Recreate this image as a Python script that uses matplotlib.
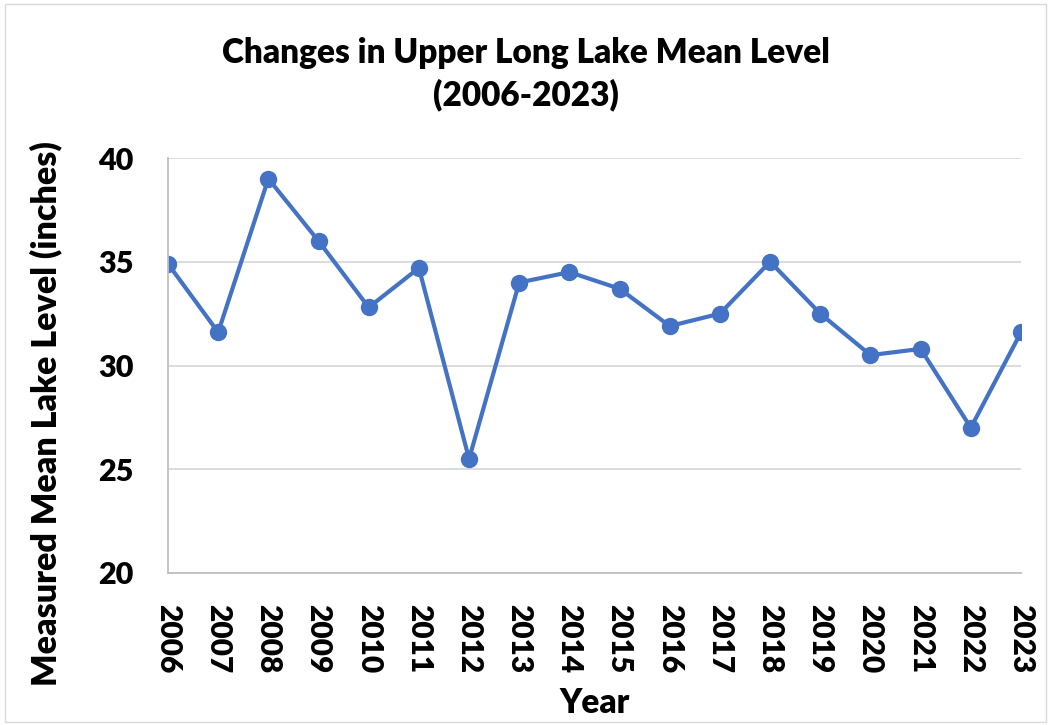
import matplotlib.pyplot as plt
from matplotlib.patches import Rectangle

years = ['2006', '2007', '2008', '2009', '2010', '2011', '2012', '2013', '2014',
         '2015', '2016', '2017', '2018', '2019', '2020', '2021', '2022', '2023']
levels = [34.9, 31.6, 39.0, 36.0, 32.8, 34.7, 25.5, 34.0, 34.5,
          33.7, 31.9, 32.5, 35.0, 32.5, 30.5, 30.8, 27.0, 31.6]
y_ticks = [20, 25, 30, 35, 40]

plt.rcParams['font.family'] = ['Lato', 'DejaVu Sans']
plt.rcParams['font.weight'] = 'heavy'

fig = plt.figure(figsize=(10.51, 7.25), dpi=100)
fig.patches.append(Rectangle((5 / 1051, 3 / 725), 1041 / 1051, 718 / 725,
                             transform=fig.transFigure, fill=False,
                             edgecolor='#d9d9d9', linewidth=1))

ax = fig.add_axes([168 / 1051, 1 - 573 / 725, 853 / 1051, 415 / 725])
x = list(range(len(years)))
ax.plot(x, levels, color='#4472C4', linewidth=3, marker='o', markersize=11.5)

ax.set_xlim(0, len(years) - 1)
ax.set_ylim(20, 40)
ax.set_yticks(y_ticks)
ax.set_xticks(x)
ax.set_xticklabels(years, rotation=270, fontsize=21.5, fontweight='heavy')
ax.tick_params(axis='y', labelsize=22, length=0, pad=25)
ax.tick_params(axis='x', length=0, pad=22)
ax.grid(axis='y', color='#d9d9d9', linewidth=1.3)
ax.set_axisbelow(True)
for side in ['top', 'right']:
    ax.spines[side].set_visible(False)
for side in ['left', 'bottom']:
    ax.spines[side].set_color('#bfbfbf')
    ax.spines[side].set_linewidth(1.3)

ax.set_xlabel('Year', fontsize=24, fontweight='heavy', labelpad=10)
ax.set_ylabel('Measured Mean Lake Level (inches)', fontsize=24.5, fontweight='heavy')
ax.yaxis.set_label_coords(-0.124, 0.384)
fig.text(0.5, 1 - 74 / 725, 'Changes in Upper Long Lake Mean Level\n(2006-2023)',
         ha='center', va='center', fontsize=24, fontweight='heavy', linespacing=1.35)

fig.savefig('out.png', dpi=100)
